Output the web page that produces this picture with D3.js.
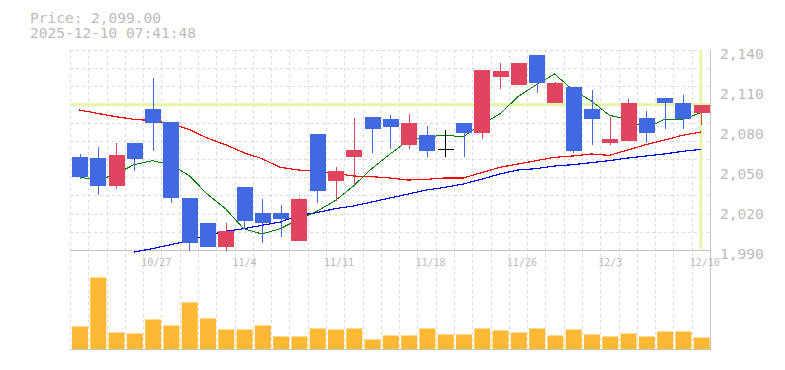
<!DOCTYPE html>
<html>
<head>
<meta charset="utf-8">
<script src="https://cdn.jsdelivr.net/npm/d3@7"></script>
<style>
  body { margin: 0; background: #fff; }
  text { font-family: "DejaVu Sans Mono", monospace; }
</style>
</head>
<body>
<svg id="chart" width="785" height="370"></svg>
<script>
// daily candles
const dates = ["10/21","10/22","10/23","10/24","10/27","10/28","10/29","10/30","10/31",
  "11/4","11/5","11/6","11/7","11/10","11/11","11/12","11/13","11/14","11/17",
  "11/18","11/19","11/20","11/21","11/25","11/26","11/27","11/28","12/1","12/2",
  "12/3","12/4","12/5","12/8","12/9","12/10"];
const opens  = [2060,2059,2038,2070,2096,2086,2029,2010,1992,2037,2018,2018,1997,2077,2042,2060,2090,2088,2069,2076,2066,2085,2078,2120,2114,2136,2100,2112,2096,2070,2072,2089,2104,2100,2093];
const highs  = [2062,2067,2070,2070,2119,2086,2029,2010,2010,2037,2028,2024,2029,2077,2052,2089,2090,2091,2092,2083,2080,2085,2125,2130,2130,2136,2116,2112,2110,2090,2103,2094,2104,2106,2099];
const lows   = [2043,2031,2036,2049,2064,2025,1989,1992,1989,2006,1995,2000,1997,2025,2027,2039,2063,2066,2066,2060,2060,2060,2073,2111,2114,2108,2100,2063,2069,2069,2072,2070,2081,2081,2084];
const closes = [2045,2038,2061,2058,2085,2029,1995,1992,2004,2012,2010,2013,2028,2034,2049,2065,2081,2082,2085,2064,2066,2078,2125,2124,2130,2115,2115,2064,2088,2073,2100,2078,2100,2088,2099];
const volumes = [225,715,165,155,295,235,465,305,195,195,235,125,125,205,195,205,95,135,135,205,145,145,205,185,165,205,135,195,145,125,155,125,175,175,115];

// moving averages as drawn (5 / 25 / 75 day)
const ma5  = [2045,2042,2047,2054,2057,2054,2046,2032,2021,2006,2002,2006,2013,2019,2027,2038,2051,2062,2072,2075,2076,2075,2084,2092,2105,2114,2122,2110,2102,2091,2088,2081,2088,2088,2093];
const ma25 = [2095,2092.5,2090,2088,2087,2085,2080.5,2074,2069,2063,2058.5,2052,2050,2049,2047.5,2045.5,2045,2044,2042.5,2043,2044,2044,2048,2052,2054.5,2057,2059.5,2060.5,2062,2061,2065,2069,2072.5,2076,2078.5];
const ma75 = [null,null,null,1988.5,1991,1994,1997,2001,2004,2006,2008.5,2011,2016,2018,2021,2023,2026,2029,2032,2035,2037,2039.5,2043,2047,2050,2051,2053,2054,2055.5,2057,2059,2060.5,2062,2064,2065.5];

const priceTicks = [1990, 2020, 2050, 2080, 2110, 2140];
const dateLabels = ["10/27","11/4","11/11","11/18","11/26","12/3","12/10"];
const lastPrice = 2099;
const stamp = "2025-12-10 07:41:48";

const svg = d3.select("#chart");

const x = d3.scaleBand().domain(dates).range([70, 710]);
const y = d3.scaleLinear().domain([1990, 2140]).range([250, 50]);
const yv = d3.scaleLinear().domain([0, 800]).range([349, 269]);

const gridColor = "#dcdcdc";
const upColor = "#e0445f";
const downColor = "#4169e1";

// grid
const grid = svg.append("g").attr("shape-rendering", "crispEdges");
grid.selectAll(".vg").data(dates).join("line")
  .attr("x1", d => Math.round(x(d)) + 0.5).attr("x2", d => Math.round(x(d)) + 0.5)
  .attr("y1", 50).attr("y2", 349)
  .attr("stroke", gridColor).attr("stroke-dasharray", "3,3");
grid.selectAll(".hg").data(d3.range(11)).join("line")
  .attr("x1", 70).attr("x2", 710)
  .attr("y1", i => Math.round(50 + i * 200 / 11) + 0.5)
  .attr("y2", i => Math.round(50 + i * 200 / 11) + 0.5)
  .attr("stroke", gridColor).attr("stroke-dasharray", "3,3");

// frame
const frame = svg.append("g").attr("stroke", "#c4c4c4").attr("shape-rendering", "crispEdges");
frame.append("line").attr("x1", 70).attr("x2", 710).attr("y1", 250.5).attr("y2", 250.5);
frame.append("line").attr("x1", 70).attr("x2", 710).attr("y1", 349.5).attr("y2", 349.5);
frame.append("line").attr("x1", 710.5).attr("x2", 710.5).attr("y1", 50).attr("y2", 350);

// current price / latest day markers
const lastX = x(dates[dates.length - 1]) + x.bandwidth() / 2;
svg.append("line")
  .attr("x1", 70).attr("x2", 710).attr("y1", y(lastPrice)).attr("y2", y(lastPrice))
  .attr("stroke", "#e6f5a8").attr("stroke-width", 3);
svg.append("line")
  .attr("x1", lastX).attr("x2", lastX).attr("y1", 50).attr("y2", 249)
  .attr("stroke", "#e6f5a8").attr("stroke-width", 3);

// moving averages
const maLine = d3.line()
  .defined(d => d.v != null)
  .x(d => x(d.date) + x.bandwidth() / 2)
  .y(d => y(d.v));
[[ma25, "#ff0000", 1.2], [ma75, "#0000ff", 1.2], [ma5, "#008000", 1]].forEach(([vals, color, w]) => {
  svg.append("path")
    .datum(dates.map((date, i) => ({date, v: vals[i]})))
    .attr("d", maLine)
    .attr("fill", "none")
    .attr("stroke", color)
    .attr("stroke-width", w)
    .attr("shape-rendering", "crispEdges");
});

// candles
const candles = dates.map((date, i) => ({date, o: opens[i], h: highs[i], l: lows[i], c: closes[i]}));
const col = d => d.c > d.o ? upColor : d.c < d.o ? downColor : "#000";
const cg = svg.append("g").attr("shape-rendering", "crispEdges");
const cs = cg.selectAll("g").data(candles).join("g");
cs.append("line")
  .attr("x1", d => Math.round(x(d.date) + 9.5) + 0.5)
  .attr("x2", d => Math.round(x(d.date) + 9.5) + 0.5)
  .attr("y1", d => y(d.h)).attr("y2", d => y(d.l))
  .attr("stroke", col);
cs.append("rect")
  .attr("x", d => x(d.date) + 2)
  .attr("width", x.bandwidth() - 2.3)
  .attr("y", d => y(Math.max(d.o, d.c)))
  .attr("height", d => Math.max(1, y(Math.min(d.o, d.c)) - y(Math.max(d.o, d.c))))
  .attr("fill", col);

// volume
svg.append("g").selectAll("rect").data(volumes).join("rect")
  .attr("x", (v, i) => x(dates[i]) + 2)
  .attr("width", x.bandwidth() - 2.3)
  .attr("y", v => yv(v))
  .attr("height", v => yv(0) - yv(v))
  .attr("fill", "#fdb933");

// price axis
const yAxis = svg.append("g")
  .attr("transform", "translate(710,0)")
  .call(d3.axisRight(y).tickValues(priceTicks).tickFormat(d3.format(",")).tickSize(0).tickPadding(10));
yAxis.select(".domain").remove();
yAxis.selectAll("text")
  .attr("dy", "0.58em")
  .attr("fill", "#bbb")
  .style("font-size", "14.5px")
  .style("font-family", "'DejaVu Sans Mono', monospace");

// date labels
svg.append("g").selectAll("text").data(dateLabels).join("text")
  .attr("x", d => x(d) - 2)
  .attr("y", 266)
  .attr("fill", "#bbb")
  .style("font-size", "10px")
  .text(d => d);

// header
svg.append("text").attr("x", 30).attr("y", 23).attr("fill", "#bbb")
  .style("font-size", "14.5px").text("Price: " + d3.format(",.2f")(lastPrice));
svg.append("text").attr("x", 30).attr("y", 38).attr("fill", "#bbb")
  .style("font-size", "14.5px").text(stamp);
</script>
</body>
</html>
